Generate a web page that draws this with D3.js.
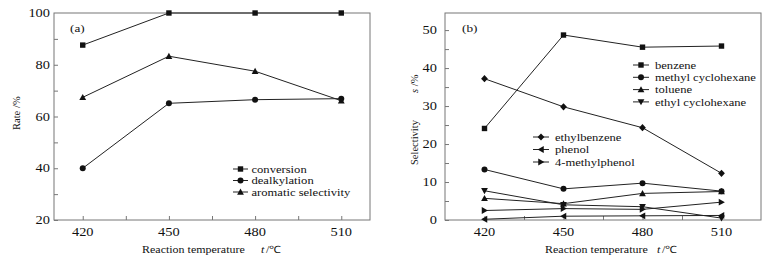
<!DOCTYPE html>
<html>
<head>
<meta charset="utf-8">
<script src="https://cdn.jsdelivr.net/npm/d3@7"></script>
<style>
  body { margin: 0; background: #fff; }
  svg text { font-family: "Liberation Serif", "Times New Roman", serif; fill: #111; }
</style>
</head>
<body>
<div id="plot"></div>
<script>
// shared x values
var temps = [420, 450, 480, 510];

// (a) rates, %
var conversion = [87.6, 100, 100, 100];
var dealkylation = [40, 65.1, 66.5, 66.9];
var aromaticSel = [67.4, 83.3, 77.5, 66.1];
var rateTicks = [20, 40, 60, 80, 100];

// (b) selectivity, %
var benzene = [24.1, 48.7, 45.5, 45.8];
var methylCyclohexane = [13.3, 8.2, 9.7, 7.6];
var toluene = [5.7, 4.3, 7.0, 7.5];
var ethylCyclohexane = [7.7, 4.0, 3.5, 0.5];
var ethylbenzene = [37.2, 29.8, 24.3, 12.3];
var phenol = [0.2, 1.0, 1.1, 1.2];
var methylphenol = [2.5, 3.0, 2.8, 4.7];
var selTicks = [0, 10, 20, 30, 40, 50];

var width = 777, height = 260;
var SX = 1.2; // the original figure is stretched sideways
var svg = d3.select("#plot").append("svg")
    .attr("width", width)
    .attr("height", height)
    .attr("font-family", "Liberation Serif, serif");

// horizontal text, widened like the source
function htext(g, x, y, size, anchor) {
    return g.append("text")
        .attr("transform", `translate(${x},${y}) scale(${SX},1)`)
        .attr("font-size", size)
        .attr("text-anchor", anchor || "start");
}

// marker shapes
function marker(g, type, x, y) {
    var s = 2.7;
    if (type == "square") {
        g.append("rect").attr("x", x - s).attr("y", y - s).attr("width", 2 * s).attr("height", 2 * s).attr("fill", "#111");
    } else if (type == "circle") {
        g.append("circle").attr("cx", x).attr("cy", y).attr("r", 3).attr("fill", "#111");
    } else if (type == "diamond") {
        g.append("path").attr("d", `M${x},${y - 3.6}L${x + 3.4},${y}L${x},${y + 3.6}L${x - 3.4},${y}Z`).attr("fill", "#111");
    } else {
        var a = 3.4;
        var pts;
        if (type == "up") pts = [[x, y - a], [x + a, y + a * 0.8], [x - a, y + a * 0.8]];
        if (type == "down") pts = [[x, y + a], [x + a, y - a * 0.8], [x - a, y - a * 0.8]];
        if (type == "left") pts = [[x - a, y], [x + a * 0.8, y - a], [x + a * 0.8, y + a]];
        if (type == "right") pts = [[x + a, y], [x - a * 0.8, y - a], [x - a * 0.8, y + a]];
        g.append("path").attr("d", "M" + pts.join("L") + "Z").attr("fill", "#111");
    }
}

function panel(opt) {
    var g = svg.append("g");
    var x = d3.scaleLinear().domain(opt.xDomain).range(opt.xRange);
    var y = d3.scaleLinear().domain(opt.yDomain).range([220, 13]);

    // frame
    g.append("rect")
        .attr("x", opt.xRange[0]).attr("y", 13)
        .attr("width", opt.xRange[1] - opt.xRange[0]).attr("height", 207)
        .attr("fill", "none").attr("stroke", "#777").attr("stroke-width", 1);

    // bottom axis, ticks inside
    var xAxis = g.append("g").attr("transform", "translate(0,220)")
        .call(d3.axisTop(x).tickValues(d3.range(420, 511, 15)).tickSize(4).tickFormat(""));
    xAxis.select(".domain").remove();
    xAxis.selectAll("line").attr("stroke", "#777");
    temps.forEach(d => htext(g, x(d), 236, 12, "middle").text(d));

    // left axis, ticks inside
    var minor = d3.range(opt.yDomain[0], opt.yDomain[1], opt.minorStep);
    var yAxis = g.append("g").attr("transform", `translate(${opt.xRange[0]},0)`)
        .call(d3.axisRight(y).tickValues(minor).tickSize(4).tickFormat(""));
    yAxis.select(".domain").remove();
    yAxis.selectAll("line").attr("stroke", "#777");
    opt.yTicks.forEach(d => htext(g, opt.xRange[0] - opt.labGap, y(d) + 4.2, 12, "end").text(d));

    // series
    opt.series.forEach(s => {
        var line = d3.line().x((d, i) => x(temps[i])).y(d => y(d));
        g.append("path").datum(s.values)
            .attr("d", line)
            .attr("fill", "none").attr("stroke", "#222").attr("stroke-width", 1);
        s.values.forEach((v, i) => marker(g, s.shape, x(temps[i]), y(v)));
    });

    // legends
    opt.legends.forEach(L => {
        L.items.forEach((s, i) => {
            var yy = L.y + i * L.step;
            g.append("line").attr("x1", L.x).attr("x2", L.x + L.len)
                .attr("y1", yy).attr("y2", yy).attr("stroke", "#222");
            marker(g, s.shape, L.x + L.len / 2, yy);
            htext(g, L.x + L.textOff, yy + 3.6, 10.5).text(s.name);
        });
    });

    // panel label
    htext(g, opt.labelX, 32, 11).text(opt.label);

    // x title
    htext(g, opt.xTitleX, 253, 10).text("Reaction temperature");
    htext(g, opt.xTitleX + opt.tOff, 253, 10).attr("font-style", "italic").text("t");
    htext(g, opt.xTitleX + opt.tOff + 5, 253, 10).text("/℃");

    // y title
    g.append("text")
        .attr("transform", `translate(${opt.yTitleX},${opt.yTitleY}) rotate(-90)`)
        .attr("font-size", 10.5).text(opt.yTitle);
    g.append("text")
        .attr("transform", `translate(${opt.yTitleX},${opt.unitY}) rotate(-90)`)
        .attr("font-size", 10.5)
        .html(opt.ySym ? `<tspan font-style="italic">${opt.ySym}</tspan> /%` : "/%");
}

panel({
    xDomain: [410, 520], xRange: [54, 370],
    yDomain: [20, 100], yTicks: rateTicks, minorStep: 10, labGap: 4,
    label: "(a)", labelX: 70, xTitleX: 142, tOff: 119,
    yTitle: "Rate", ySym: "", yTitleX: 20, yTitleY: 130, unitY: 108,
    series: [
        { name: "conversion", shape: "square", values: conversion },
        { name: "dealkylation", shape: "circle", values: dealkylation },
        { name: "aromatic selectivity", shape: "up", values: aromaticSel }
    ],
    legends: [{ x: 233, y: 169, step: 11.5, len: 15, textOff: 18.5, items: [
        { name: "conversion", shape: "square" },
        { name: "dealkylation", shape: "circle" },
        { name: "aromatic selectivity", shape: "up" }
    ] }]
});

panel({
    xDomain: [405, 525], xRange: [445, 761],
    yDomain: [0, 54.5], yTicks: selTicks, minorStep: 5, labGap: 8,
    label: "(b)", labelX: 462, xTitleX: 545, tOff: 112,
    yTitle: "Selectivity", ySym: "s", yTitleX: 418, yTitleY: 165, unitY: 93,
    series: [
        { name: "benzene", shape: "square", values: benzene },
        { name: "methyl cyclohexane", shape: "circle", values: methylCyclohexane },
        { name: "toluene", shape: "up", values: toluene },
        { name: "ethyl cyclohexane", shape: "down", values: ethylCyclohexane },
        { name: "ethylbenzene", shape: "diamond", values: ethylbenzene },
        { name: "phenol", shape: "left", values: phenol },
        { name: "4-methylphenol", shape: "right", values: methylphenol }
    ],
    legends: [
        { x: 633, y: 65, step: 12.3, len: 16, textOff: 22, items: [
            { name: "benzene", shape: "square" },
            { name: "methyl cyclohexane", shape: "circle" },
            { name: "toluene", shape: "up" },
            { name: "ethyl cyclohexane", shape: "down" }
        ] },
        { x: 533, y: 137, step: 12.5, len: 16, textOff: 22, items: [
            { name: "ethylbenzene", shape: "diamond" },
            { name: "phenol", shape: "left" },
            { name: "4-methylphenol", shape: "right" }
        ] }
    ]
});
</script>
</body>
</html>
